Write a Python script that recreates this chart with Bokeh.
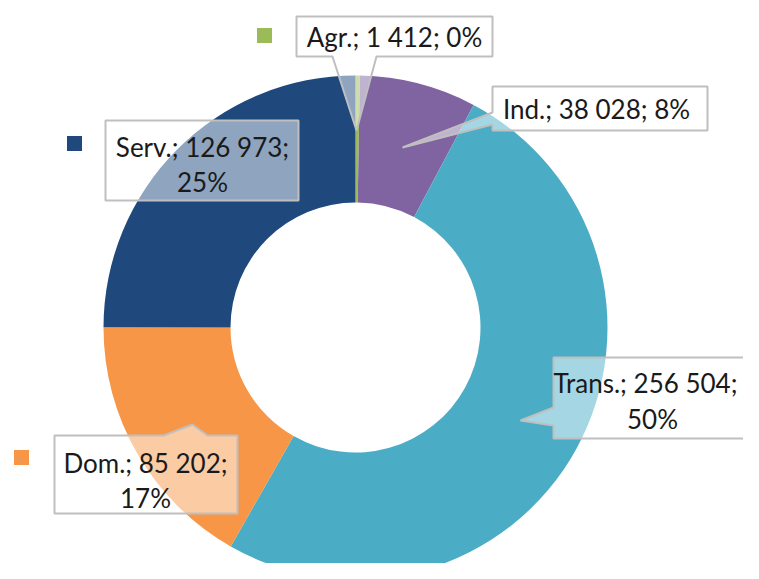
import numpy as np
from bokeh.plotting import figure
from bokeh.models import Range1d, ColumnDataSource
from bokeh.core.properties import value
from bokeh.embed import file_html
from bokeh.resources import INLINE

# ---- data ----
categories = ["Agr.", "Ind.", "Trans.", "Dom.", "Serv."]
values = [1412, 38028, 256504, 85202, 126973]
percent_labels = ["0%", "8%", "50%", "17%", "25%"]
colors = ["#9BBB59", "#8064A2", "#4BACC6", "#F79646", "#1F497D"]

# ---- layout (image pixel coordinates, y measured downward) ----
W, H = 743, 563
CX, CY = 355, 327
R_OUT, R_IN = 252, 125

def Y(y):
    return H - y

total = float(sum(values))
fr = np.array(values) / total
cum = np.concatenate([[0], np.cumsum(fr)])
start = np.pi / 2 - cum[1:] * 2 * np.pi
end = np.pi / 2 - cum[:-1] * 2 * np.pi

p = figure(width=W, height=H, x_range=Range1d(0, W), y_range=Range1d(0, H),
           output_backend="svg", toolbar_location=None, min_border=0)
p.axis.visible = False
p.grid.visible = False
p.outline_line_color = None
p.background_fill_color = "white"
p.border_fill_color = "white"

src = ColumnDataSource(dict(x=[CX] * 5, y=[Y(CY)] * 5, start=list(start), end=list(end), color=colors))
p.annular_wedge(x="x", y="y", inner_radius=R_IN, outer_radius=R_OUT, start_angle="start",
                end_angle="end", fill_color="color", line_color=None, direction="anticlock", source=src)

# ---- callouts: polygon outlines (box + pointer) ----
callouts = {
    "Agr.": [(296, 16), (492, 16), (492, 56), (376, 56), (356, 130), (332, 56), (296, 56)],
    "Ind.": [(492, 86), (707, 86), (707, 130), (492, 130), (492, 124), (402, 147), (492, 112)],
    "Trans.": [(553, 357), (755, 357), (755, 438), (553, 438), (553, 425), (520, 420), (553, 407)],
    "Dom.": [(54, 435), (163, 435), (192, 424), (207, 435), (237, 435), (237, 513), (54, 513)],
    "Serv.": [(105, 120), (298, 120), (298, 200), (105, 200)],
}
xs = [[pt[0] for pt in callouts[c]] for c in categories]
ys = [[Y(pt[1]) for pt in callouts[c]] for c in categories]
p.patches(xs, ys, fill_color="white", fill_alpha=0.5, line_color="#BFBFBF", line_width=2)

# ---- label texts ----
def fmt(v):
    return f"{v:,}".replace(",", " ")

labels = {c: (c, fmt(v), pc) for c, v, pc in zip(categories, values, percent_labels)}

text_pos = {
    "Agr.": [(394, 36, "{0}; {1}; {2}")],
    "Ind.": [(596, 108, "{0}; {1}; {2}")],
    "Trans.": [(645, 382, "{0}; {1};"), (652, 418, "{2}")],
    "Dom.": [(145, 462, "{0}; {1};"), (145, 497, "{2}")],
    "Serv.": [(202, 146, "{0}; {1};"), (202, 181, "{2}")],
}
tx, ty, tt = [], [], []
for c in categories:
    for (x, y, f) in text_pos[c]:
        tx.append(x)
        ty.append(Y(y))
        tt.append(f.format(*labels[c]))
p.text(tx, ty, text=tt, text_font=value("Lato"), text_font_size="26px", text_color="#1A1A1A",
       text_align="center", text_baseline="middle")

# ---- legend keys (Ind. and Trans. keys fall on their own slices and are not visible) ----
key_cats = ["Agr.", "Dom.", "Serv."]
key_pos = {"Agr.": (264, 35), "Dom.": (21, 457), "Serv.": (74, 143)}
p.rect([key_pos[c][0] for c in key_cats], [Y(key_pos[c][1]) for c in key_cats],
       width=15, height=15, fill_color=[colors[categories.index(c)] for c in key_cats], line_color=None)

open("out.html", "w").write(file_html(p, INLINE))
